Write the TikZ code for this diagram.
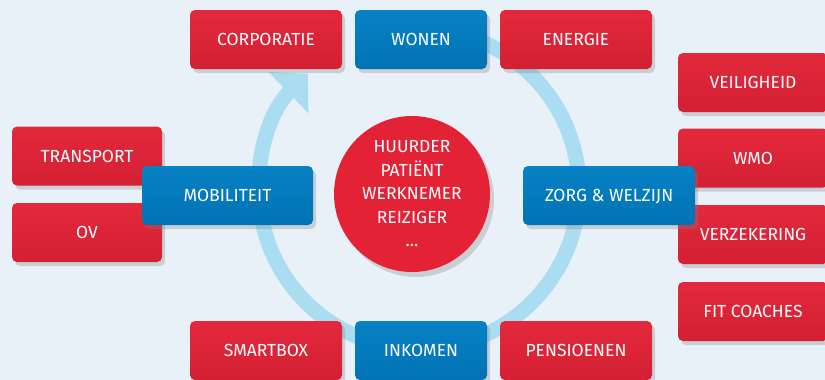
\documentclass[tikz,border=0pt]{standalone}
\usepackage{fontspec}
\setmainfont{Fira Sans}
\usetikzlibrary{arrows.meta,shadows}
\definecolor{bgblue}{HTML}{E8F0F8}
\definecolor{boxred}{HTML}{E32236}
\definecolor{boxblue}{HTML}{007DC3}
\definecolor{ringblue}{HTML}{AADCF2}

\begin{document}
\begin{tikzpicture}[x=1pt, y=1pt,
	redbox/.style={rectangle, rounded corners=5pt, top color=boxred!97!white, bottom color=boxred!93!black,
		text=white, minimum width=152pt, minimum height=59pt, inner sep=0pt,
		text height=12pt, text depth=0pt, font=\fontsize{17.5}{20}\selectfont,
		drop shadow={shadow xshift=3pt, shadow yshift=-4pt, opacity=0.3}},
	bluebox/.style={redbox, top color=boxblue!97!white, bottom color=boxblue!92!black, minimum width=132pt}]
	\useasboundingbox (0,0) rectangle (825,-380);
	\fill[bgblue] (0,0) rectangle (825,-380);
	% ring with arrow
	\draw[ringblue, line width=15pt, -{Triangle[length=27pt, width=56pt]}]
		(419,-189) ++(105:160) arc[start angle=105, end angle=-226, radius=160];
	\node (wie) [circle, fill=boxred, minimum size=156pt, inner sep=0pt, text=white, align=center,
		font=\fontsize{17.5}{23.5}\selectfont,
		drop shadow={shadow xshift=4pt, shadow yshift=-5pt, opacity=0.3}] at (412,-194)
		{HUURDER\\PATIËNT\\WERKNEMER\\REIZIGER\\...};
	\node (corp) [redbox] at (266,-39.5) {CORPORATIE};
	\node (wonen) [bluebox] at (421,-39.5) {WONEN};
	\node (energie) [redbox] at (576,-39.5) {ENERGIE};
	\node (smartbox) [redbox] at (266,-350.5) {SMARTBOX};
	\node (inkomen) [bluebox] at (421,-350.5) {INKOMEN};
	\node (pensioen) [redbox] at (576,-350.5) {PENSIOENEN};
	\node (transport) [redbox, minimum width=150pt] at (87,-156) {TRANSPORT};
	\node (ov) [redbox, minimum width=150pt] at (87,-232.5) {OV};
	\node (mobiel) [bluebox, minimum width=171pt] at (227.5,-195.5) {MOBILITEIT};
	\node (veilig) [redbox, minimum width=150pt] at (753,-82.5) {VEILIGHEID};
	\node (wmo) [redbox, minimum width=150pt] at (753,-158) {WMO};
	\node (verzek) [redbox, minimum width=150pt] at (753,-234.5) {VERZEKERING};
	\node (fit) [redbox, minimum width=150pt] at (753,-311.5) {FIT COACHES};
	\node (zorg) [bluebox, minimum width=172pt] at (609,-195.5) {ZORG \& WELZIJN};
\end{tikzpicture}
\end{document}
